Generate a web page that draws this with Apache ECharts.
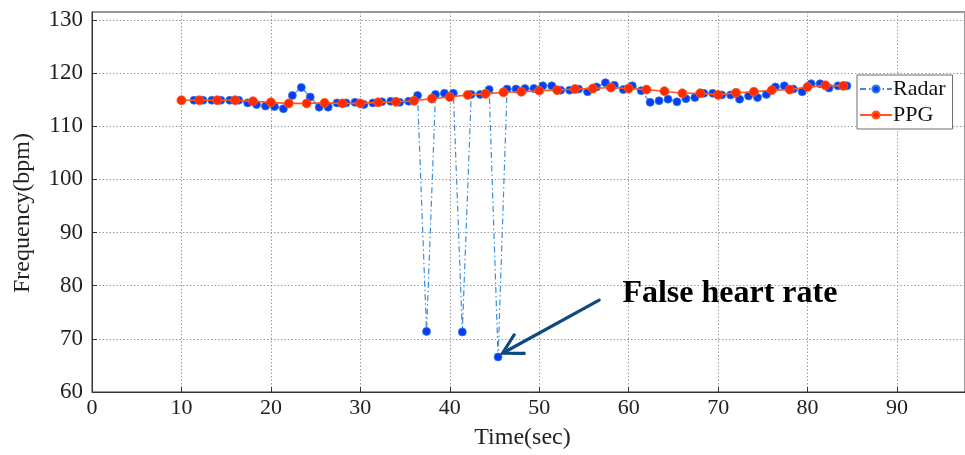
<!DOCTYPE html>
<html><head><meta charset="utf-8">
<script src="https://cdn.jsdelivr.net/npm/echarts@6/dist/echarts.min.js"></script>
<style>html,body{margin:0;padding:0;background:#fff}#c{width:965px;height:455px}</style>
</head><body><div id="c"></div>
<script>
const radarTime = [11.4,12.4,13.4,14.4,15.4,16.4,17.4,18.4,19.4,20.4,
  21.4,22.4,23.4,24.4,25.4,26.4,27.4,28.4,29.4,30.4,
  31.4,32.4,33.4,34.4,35.4,36.4,37.4,38.4,39.4,40.4,
  41.4,42.4,43.4,44.4,45.4,46.4,47.4,48.4,49.4,50.4,
  51.4,52.4,53.4,54.4,55.4,56.4,57.4,58.4,59.4,60.4,
  61.4,62.4,63.4,64.4,65.4,66.4,67.4,68.4,69.4,70.4,
  71.4,72.4,73.4,74.4,75.4,76.4,77.4,78.4,79.4,80.4,
  81.4,82.4,83.4,84.4];
const radarValues = [114.9,114.9,114.9,114.9,114.9,114.9,114.4,114.1,113.8,113.7,
  113.3,115.8,117.3,115.5,113.6,113.6,114.4,114.4,114.5,114.1,
  114.4,114.6,114.7,114.5,114.7,115.8,71.4,116.0,116.2,116.2,
  71.3,116.0,116.0,116.9,66.6,117.0,117.0,117.1,117.1,117.6,
  117.6,116.8,116.8,117.0,116.5,117.4,118.2,117.7,116.9,117.6,
  116.7,114.5,114.8,115.1,114.6,115.2,115.4,116.2,116.2,115.9,
  115.9,115.1,115.7,115.4,116.0,117.4,117.6,117.0,116.5,118.0,
  118.0,117.2,117.6,117.6];
const ppgTime = [10,12,14,16,18,20,22,24,26,28,30,32,34,36,38,40,42,44,46,48,
  50,52,54,56,58,60,62,64,66,68,70,72,74,76,78,80,82,84];
const ppgValues = [114.9,114.9,114.9,114.9,114.7,114.5,114.3,114.3,114.4,114.3,
  114.3,114.5,114.6,114.8,115.2,115.5,115.9,116.1,116.4,116.5,
  116.7,116.8,117.0,117.1,117.3,117.1,116.9,116.6,116.2,116.2,
  115.9,116.3,116.5,116.8,116.9,117.4,117.7,117.6];
const seriesNames = ['Radar', 'PPG'];
const xTickLabels = [0,10,20,30,40,50,60,70,80,90];
const yTickLabels = [60,70,80,90,100,110,120,130];
const xAxisTitle = 'Time(sec)';
const yAxisTitle = 'Frequency(bpm)';
const annotationText = 'False heart rate';
// annotation anchor points in data coordinates
const arrowTip = [45.9, 67.3];
const arrowTail = [56.7, 77.3];
const textAnchor = [59.3, 78.4];

const serif = '"Liberation Serif","DejaVu Serif",serif';
const chart = echarts.init(document.getElementById('c'), null, {renderer: 'canvas'});
const gridLine = {show: true, lineStyle: {color: '#9a9a9a', type: [1.5, 2], width: 1}};
const option = {
  animation: false,
  backgroundColor: '#fff',
  grid: {left: 92, top: 12, right: -1, bottom: 61, show: true, borderColor: '#333', borderWidth: 1, backgroundColor: 'transparent'},
  legend: {
    orient: 'vertical', left: 857, top: 75,
    backgroundColor: '#fff', borderColor: '#6e6e6e', borderWidth: 1, borderRadius: 0,
    padding: [3, 7, 3, 2], itemGap: 4, itemWidth: 32, itemHeight: 9,
    textStyle: {fontFamily: serif, fontSize: 22, color: '#111', padding: [0, 0, 0, -4]},
    data: seriesNames
  },
  xAxis: {
    type: 'value', min: 0, max: 97.6, interval: 10,
    name: xAxisTitle, nameLocation: 'middle', nameGap: 34,
    nameTextStyle: {fontFamily: serif, fontSize: 24, color: '#222', padding: [0, 12, 0, 0]},
    axisLine: {lineStyle: {color: '#333', width: 1}},
    axisTick: {inside: true, length: 5, lineStyle: {color: '#333'}},
    axisLabel: {fontFamily: serif, fontSize: 22, color: '#222', margin: 5, showMaxLabel: false,
      formatter: v => xTickLabels.indexOf(v) >= 0 ? String(v) : ''},
    splitLine: gridLine
  },
  yAxis: {
    type: 'value', min: 60, max: 131.5, interval: 10,
    name: yAxisTitle, nameLocation: 'middle', nameGap: 57,
    nameTextStyle: {fontFamily: serif, fontSize: 24, color: '#222', padding: [0, 22, 0, 0]},
    axisLine: {show: true, lineStyle: {color: '#333', width: 1}},
    axisTick: {show: true, inside: true, length: 5, lineStyle: {color: '#333'}},
    axisLabel: {fontFamily: serif, fontSize: 23, color: '#222', margin: 9, showMaxLabel: false,
      formatter: v => yTickLabels.indexOf(v) >= 0 ? String(v) : ''},
    splitLine: gridLine
  },
  series: [
    {
      name: seriesNames[0], type: 'line',
      data: radarTime.map((t, i) => [t, radarValues[i]]),
      symbol: 'circle', symbolSize: 8, showSymbol: true,
      lineStyle: {color: '#3b8ddb', width: 1.2, type: [6, 3, 1.5, 3]},
      itemStyle: {color: '#0a3cf5', borderColor: '#2f7fe0', borderWidth: 0.8},
      z: 2
    },
    {
      name: seriesNames[1], type: 'line',
      data: ppgTime.map((t, i) => [t, ppgValues[i]]),
      symbol: 'circle', symbolSize: 9, showSymbol: true,
      lineStyle: {color: '#ff5a1e', width: 1.6},
      itemStyle: {color: '#ff2a00', borderColor: '#ff5a1e', borderWidth: 0.8},
      z: 3
    }
  ]
};
chart.setOption(option);

const tip = chart.convertToPixel({gridIndex: 0}, arrowTip);
const tail = chart.convertToPixel({gridIndex: 0}, arrowTail);
const tp = chart.convertToPixel({gridIndex: 0}, textAnchor);
const ang = Math.atan2(tail[1] - tip[1], tail[0] - tip[0]);
const headLen = 23, headAng = 29 * Math.PI / 180;
const h1 = [tip[0] + headLen * Math.cos(ang + headAng), tip[1] + headLen * Math.sin(ang + headAng)];
const h2 = [tip[0] + headLen * Math.cos(ang - headAng), tip[1] + headLen * Math.sin(ang - headAng)];
const arrowColor = '#0d4a7e';
chart.setOption({
  graphic: [
    {type: 'line', shape: {x1: tail[0], y1: tail[1], x2: tip[0] + 2 * Math.cos(ang), y2: tip[1] + 2 * Math.sin(ang)},
      style: {stroke: arrowColor, lineWidth: 3.2, lineCap: 'round'}, z: 100},
    {type: 'polyline', shape: {points: [h1, tip, h2]},
      style: {stroke: arrowColor, lineWidth: 3.2, fill: null, lineJoin: 'miter', lineCap: 'butt'}, z: 100},
    {type: 'text', x: tp[0], y: tp[1],
      style: {text: annotationText, fontFamily: serif, fontWeight: 'bold', fontSize: 32, fill: '#000',
        textAlign: 'left', textVerticalAlign: 'middle'}, z: 100}
  ]
});
</script>
</body></html>
